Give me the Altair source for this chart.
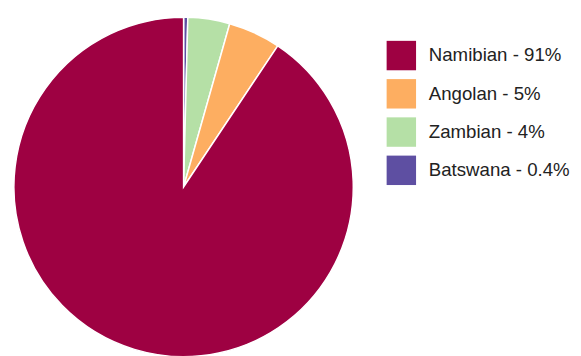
import altair as alt
import pandas as pd

groups = ["Batswana", "Zambian", "Angolan", "Namibian"]
labels = ["Batswana - 0.4%", "Zambian - 4%", "Angolan - 5%", "Namibian - 91%"]
shares = [0.4, 4, 5, 91]
order = [0, 1, 2, 3]
legend_order = ["Namibian - 91%", "Angolan - 5%", "Zambian - 4%", "Batswana - 0.4%"]
colors = ["#9e0142", "#fdae61", "#b5e0a6", "#5e4fa2"]

df = pd.DataFrame({"group": groups, "label": labels, "share": shares, "ord": order})

chart = alt.Chart(df).mark_arc(stroke="white", strokeWidth=1.5).encode(
    theta=alt.Theta("share:Q", stack=True),
    order=alt.Order("ord:Q"),
    color=alt.Color(
        "label:N",
        scale=alt.Scale(domain=legend_order, range=colors),
        legend=alt.Legend(
            title=None,
            orient="none",
            legendX=380,
            legendY=24,
            symbolType="square",
            symbolSize=900,
            symbolStrokeWidth=0,
            symbolOpacity=1,
            labelFontSize=19,
            labelFont="Liberation Sans",
            labelColor="#222222",
            labelOffset=13,
            rowPadding=9,
        ),
    ),
).properties(width=346, height=346, padding=3).configure_view(stroke=None)

chart.save("out.html", embed_options={"renderer": "svg", "actions": False})
